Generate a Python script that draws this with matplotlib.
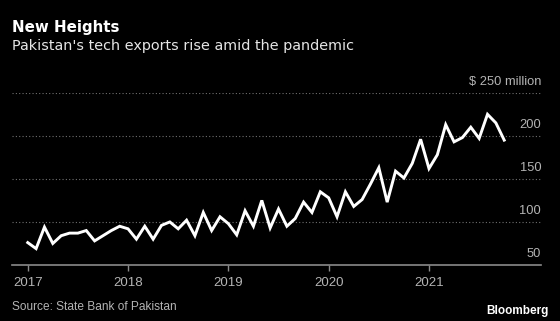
import numpy as np
import matplotlib
matplotlib.use("Agg")
import matplotlib.pyplot as plt

# monthly tech exports, $ million, Jan 2017 - Oct 2021
exports_2017 = [76, 69, 94, 75, 84, 87, 87, 90, 78, 84, 90, 95]
exports_2018 = [92, 80, 95, 80, 96, 100, 92, 102, 84, 111, 90, 106]
exports_2019 = [98, 85, 113, 95, 125, 93, 115, 95, 104, 123, 111, 135]
exports_2020 = [128, 106, 135, 118, 126, 144, 163, 123, 159, 151, 168, 196]
exports_2021 = [162, 178, 213, 193, 198, 210, 197, 225, 215, 195]

years = [2017, 2018, 2019, 2020, 2021]
y_ticks = [50, 100, 150, 200, 250]
y_labels = ["50", "100", "150", "200", "$ 250 million"]

values = exports_2017 + exports_2018 + exports_2019 + exports_2020 + exports_2021
t = 2017 + np.arange(len(values)) / 12

bg = "black"
plt.rcParams["font.family"] = ["Liberation Sans", "DejaVu Sans"]

fig = plt.figure(figsize=(5.6, 3.21), dpi=100, facecolor=bg)
ax = fig.add_axes([0.0223, 0.1745, 0.944, 0.5365], facecolor=bg)

for v in y_ticks[1:]:
    ax.axhline(v, color="#707070", lw=0.8, ls=(0, (1, 2)), zorder=1)

ax.plot(t, values, color="white", lw=2.1, solid_joinstyle="miter", zorder=3)

ax.set_xlim(2016.848, 2022.118)
ax.set_ylim(50, 250)

for s in ["top", "left", "right"]:
    ax.spines[s].set_visible(False)
ax.spines["bottom"].set_color("#8a8a8a")
ax.spines["bottom"].set_linewidth(1.2)

ax.set_xticks(years)
ax.set_xticklabels([str(y) for y in years])
ax.tick_params(axis="x", colors="#8a8a8a", length=4, width=1, labelcolor="#b4b4b4",
               labelsize=9.5, pad=5)
ax.set_yticks([])

for v, lab in zip(y_ticks, y_labels):
    ax.text(1.0, v + 6, lab, transform=ax.get_yaxis_transform(), ha="right", va="bottom",
            color="#b4b4b4", fontsize=9.3)

fig.text(0.0223, 0.913, "New Heights", color="white", fontsize=10.8, fontweight="bold",
         va="center", ha="left", family="DejaVu Sans")
fig.text(0.0223, 0.857, "Pakistan's tech exports rise amid the pandemic", color="#e6e6e6",
         fontsize=10.4, va="center", ha="left", family="DejaVu Sans")
fig.text(0.0223, 0.045, "Source: State Bank of Pakistan", color="#b4b4b4", fontsize=8.6,
         va="center", ha="left")
fig.text(0.979, 0.032, "Bloomberg", color="white", fontsize=8.5, fontweight="bold",
         va="center", ha="right")

fig.savefig("out.png", dpi=100, facecolor=bg)
